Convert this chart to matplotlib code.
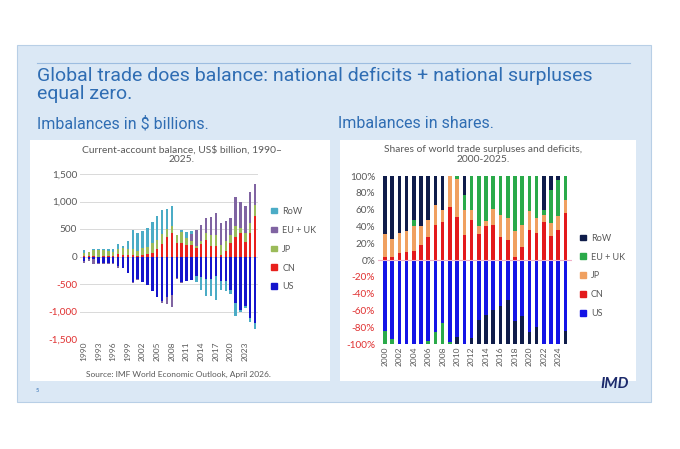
import numpy as np
import matplotlib.pyplot as plt
from matplotlib.patches import Rectangle
from matplotlib.lines import Line2D

# current-account balance, US$ bn (signed), 1990-2025
years_ca = list(range(1990, 2026))
us_ca = [-80, -50, -50, -115, -120, -115, -125, -180, -215, -300, -455, -400, -455, -520, -620, -745, -810, -730,
         -700, -385, -460, -450, -430, -350, -370, -410, -400, -360, -440, -440, -600, -850, -980, -905, -1120, -1200]
cn_ca = [12, 13, 6, 0, 8, 2, 7, 37, 31, 21, 20, 17, 35, 43, 69, 132, 232, 353, 420, 245, 240, 210, 215, 150,
         236, 293, 191, 188, 24, 103, 249, 353, 420, 264, 422, 730]
jp_ca = [45, 68, 112, 110, 110, 105, 66, 97, 119, 115, 120, 88, 113, 137, 172, 166, 170, 150, 135, 145, 200, 120,
         60, 50, 40, 136, 197, 203, 177, 176, 148, 197, 90, 160, 194, 210]
eu_ca = [-30, -40, -90, -25, -25, -30, -10, -35, 0, 0, -20, -25, 0, 0, 0, 0, -30, -125, -225, -15, -20, 10, 130,
         290, 304, 271, 327, 404, 409, 371, 303, 540, 490, 491, 554, 380]
row_ca = [53, 9, 22, 30, 27, 38, 62, 86, 50, 154, 335, 320, 307, 340, 379, 442, 438, 352, 370, 10, 40, 110, 55,
          -120, -230, -300, -315, -430, -170, -195, -90, -235, -20, -25, -70, -120]

# shares of world surpluses / deficits, %, 2000-2025
years_sh = list(range(2000, 2026))
us_sh = [-85, -94, -100, -100, -100, -100, -96, -86, -75, -98, -92, -100, -93, -71, -65, -59, -55, -48, -73, -67,
         -86, -80, -100, -100, -100, -85]
cn_sh = [4, 4, 8, 9, 11, 18, 27, 42, 45, 63, 51, 30, 48, 31, 41, 42, 27, 24, 4, 16, 36, 32, 45, 29, 36, 56]
jp_sh = [27, 21, 24, 25, 29, 22, 21, 23, 15, 37, 45, 29, 12, 9, 6, 19, 27, 26, 30, 26, 22, 18, 9, 15, 16, 15]
eu_sh = [-15, -6, 0, 0, 8, 0, -4, -14, -25, -2, 4, 18, 40, 60, 53, 39, 46, 50, 66, 58, 42, 50, 6, 39, 43, 29]
row_sh = [69, 75, 68, 66, 52, 60, 52, 35, 40, 0, -8, 23, -7, -29, -35, -41, -45, -52, -27, -33, -14, -20, 40, 17,
          5, -15]

names = ['US', 'CN', 'JP', 'EU + UK', 'RoW']
cols_ca = ['#1414cc', '#e8201c', '#9bbb59', '#8064a2', '#4bacc6']
cols_sh = ['#1414e6', '#e31a1c', '#f0a060', '#2aaa4a', '#0f1c4a']

plt.rcParams['font.family'] = ['Lato', 'DejaVu Sans']

fig = plt.figure(figsize=(6.8, 4.49), dpi=100)
fig.patch.set_facecolor('white')
W, H = 680, 449


def box(x0, y0, x1, y1, **kw):
    fig.patches.append(Rectangle((x0 / W, 1 - y1 / H), (x1 - x0) / W, (y1 - y0) / H,
                                 transform=fig.transFigure, **kw))


box(17, 45, 651, 402, facecolor='#dbe8f5', edgecolor='#b8cfe6', lw=0.8, zorder=-2)
fig.add_artist(Line2D([37 / W, 630 / W], [1 - 63 / H, 1 - 63 / H], color='#9dbde0', lw=0.8))
box(30, 140, 330, 381, facecolor='white', edgecolor='none', zorder=-1)
box(340, 140, 636, 381, facecolor='white', edgecolor='none', zorder=-1)

blue = '#2f6db3'
fig.text(37 / W, 1 - 67 / H, 'Global trade does balance: national deficits + national surpluses\nequal zero.',
         family='Roboto', fontsize=14, color=blue, va='top', linespacing=1.0)
fig.text(37 / W, 1 - 116 / H, 'Imbalances in $ billions.', family='Roboto', fontsize=11.5, color=blue, va='top')
fig.text(338 / W, 1 - 116 / H, 'Imbalances in shares.', family='Roboto', fontsize=11.5, color=blue, va='top')
fig.text(36 / W, 1 - 391 / H, '5', fontsize=4, color=blue, va='center')
fig.text(629 / W, 1 - 384 / H, 'IMD', fontsize=11, color='#1c2a6b', weight='bold', style='italic',
         ha='right', va='center')


def stacked(ax, xs, series, colors, width):
    pos = np.zeros(len(xs))
    neg = np.zeros(len(xs))
    for vals, c in zip(series, colors):
        v = np.array(vals, dtype=float)
        p = np.where(v > 0, v, 0)
        n = np.where(v < 0, v, 0)
        ax.bar(xs, p, width, bottom=pos, color=c, zorder=3)
        ax.bar(xs, n, width, bottom=neg, color=c, zorder=3)
        pos += p
        neg += n


def style(ax, labels_fmt, ticks, ysize):
    ax.set_facecolor('none')
    for s in ax.spines.values():
        s.set_visible(False)
    ax.tick_params(length=0, labelsize=6, colors='#595959', pad=2)
    ax.tick_params(axis='y', labelsize=ysize)
    ax.set_yticks(ticks)
    ax.set_yticklabels([labels_fmt(t) for t in ticks])
    for t, lab in zip(ticks, ax.get_yticklabels()):
        lab.set_color('#e03030' if t < 0 else '#595959')


def legend(ax, colors, x, y):
    hs = [Rectangle((0, 0), 1, 1, color=c) for c in colors[::-1]]
    ax.legend(hs, names[::-1], loc='center left', bbox_to_anchor=(x, y), frameon=False, fontsize=6.5,
              handlelength=0.6, handleheight=0.6, labelspacing=1.1, handletextpad=0.6, labelcolor='#595959')


# left chart
ax1 = fig.add_axes([80 / W, 1 - 339 / H, 178 / W, 165 / H])
x1 = np.arange(len(years_ca))
stacked(ax1, x1, [us_ca, cn_ca, jp_ca, eu_ca, row_ca], cols_ca, 0.5)
ax1.set_xlim(-0.8, 35.6)
ax1.set_ylim(-1500, 1500)
style(ax1, lambda t: f'{t:,.0f}', [-1500, -1000, -500, 0, 500, 1000, 1500], 7.2)
ax1.grid(axis='y', color='#d9d9d9', lw=0.7, zorder=0)
ax1.set_xticks(x1[::3])
ax1.set_xticklabels([str(y) for y in years_ca[::3]], rotation=90)
legend(ax1, cols_ca, 1.03, 0.545)
fig.text(182 / W, 1 - 145 / H, 'Current-account balance, US$ billion, 1990–\n2025.', ha='center', va='top',
         fontsize=7.4, color='#595959', linespacing=1.1)
fig.text(178 / W, 1 - 374 / H, 'Source: IMF World Economic Outlook, April 2026.', ha='center', va='center',
         fontsize=6.0, color='#595959')

# right chart
ax2 = fig.add_axes([378 / W, 1 - 344 / H, 194 / W, 168 / H])
x2 = np.arange(len(years_sh))
stacked(ax2, x2, [us_sh, cn_sh, jp_sh, eu_sh, row_sh], cols_sh, 0.5)
ax2.set_xlim(-0.95, 25.9)
ax2.set_ylim(-100, 100)
style(ax2, lambda t: f'{t:.0f}%', list(range(-100, 101, 20)), 7.2)
ax2.axhline(0, color='#f0b0c8', lw=0.8, zorder=4)
ax2.set_xticks(x2[::2])
ax2.set_xticklabels([str(y) for y in years_sh[::2]], rotation=90)
legend(ax2, cols_sh, 1.0, 0.405)
fig.text(483 / W, 1 - 145 / H, 'Shares of world trade surpluses and deficits,\n2000-2025.', ha='center', va='top',
         fontsize=7.4, color='#595959', linespacing=1.1)

fig.savefig('out.png', dpi=100, facecolor=fig.get_facecolor())
